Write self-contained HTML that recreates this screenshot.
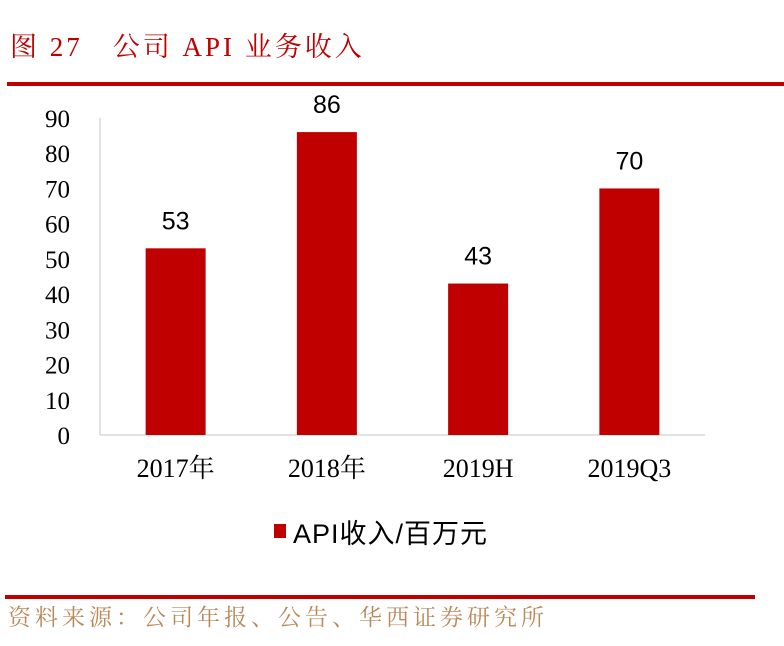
<!DOCTYPE html>
<html><head><meta charset="utf-8"><style>
body{margin:0;background:#fff;width:784px;height:646px;overflow:hidden;}
svg{display:block}
</style></head><body>
<svg width="784" height="646" xmlns="http://www.w3.org/2000/svg">
<text x="10" y="56" fill="#c00000" font-size="27" letter-spacing="3" font-family="'Liberation Serif','Noto Serif CJK SC',serif">图 27　公司 API 业务收入</text>
<rect x="7" y="82" width="777" height="4" fill="#c00000"/>
<g id="plot"></g>
<rect x="274" y="524" width="12" height="14" fill="#c00000"/>
<text x="293" y="543" font-size="27" letter-spacing="1" fill="#000" font-family="'Liberation Sans','Noto Sans CJK SC',sans-serif">API收入/百万元</text>
<rect x="5" y="595" width="750" height="4" fill="#c00000"/>
<text x="8" y="625" font-size="23" letter-spacing="4" fill="#b8895a" font-family="'Noto Serif CJK SC',serif">资料来源：公司年报、公告、华西证券研究所</text>
</svg>
<script>
const categories=["2017年","2018年","2019H","2019Q3"];
const values=[53,86,43,70];
const yTicks=[0,10,20,30,40,50,60,70,80,90];
const NS="http://www.w3.org/2000/svg";
const g=document.getElementById('plot');
const x0=100,x1=705,yBase=435,yTop=118,yMax=90;
const y=v=>yBase-(v/yMax)*(yBase-yTop);
const step=(x1-x0)/categories.length;
const cx=i=>x0+step*(i+0.5);
const barW=60;
function el(t,a){const e=document.createElementNS(NS,t);for(const k in a)e.setAttribute(k,a[k]);g.appendChild(e);return e;}
const ya=el('line',{x1:x0,y1:yTop,x2:x0,y2:yBase,stroke:'#d9d9d9','stroke-width':1.5});


const xa=el('line',{x1:x0,y1:yBase,x2:x1,y2:yBase,stroke:'#d9d9d9','stroke-width':1.5});


yTicks.forEach(v=>{
 const t=el('text',{x:70,y:y(v)+9,'text-anchor':'end','font-size':25,'font-family':"'Liberation Serif',serif",fill:'#000'});
 t.textContent=v;
 
 
});
categories.forEach((c,i)=>{
 const r=el('rect',{x:cx(i)-barW/2,y:y(values[i]),width:barW,height:yBase-y(values[i]),fill:'#c00000'});
 
 
 const v=el('text',{x:cx(i),y:y(values[i])-19,'text-anchor':'middle','font-size':25,'font-family':"'Liberation Sans',sans-serif",fill:'#000'});
 v.textContent=values[i];
 
 
 const l=el('text',{x:cx(i),y:477,'text-anchor':'middle','font-size':26,'font-family':"'Liberation Serif','Noto Serif CJK SC',serif",fill:'#000'});
 l.textContent=c;
 
 
});
</script>
</body></html>
